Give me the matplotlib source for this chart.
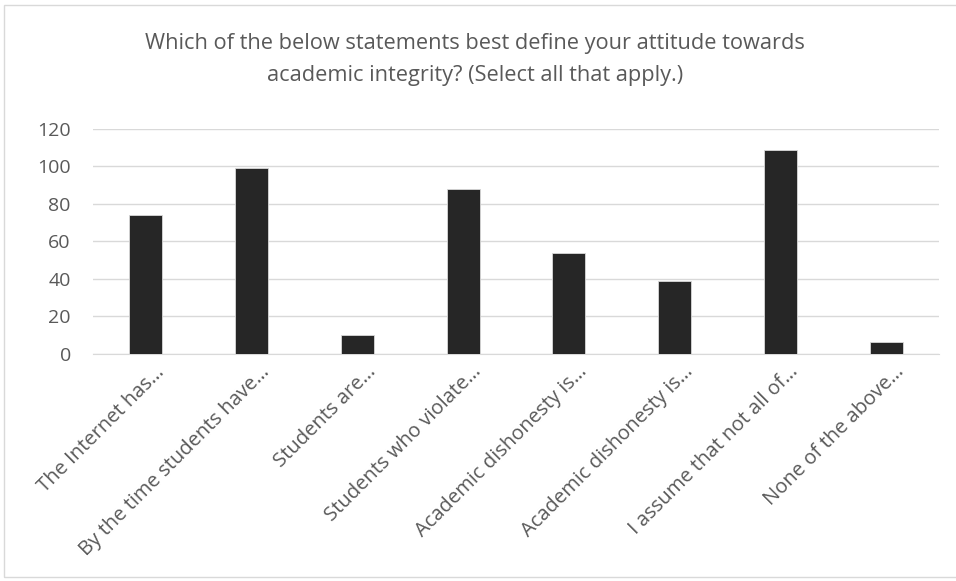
import matplotlib.pyplot as plt
from matplotlib.patches import Rectangle

labels = ["The Internet has…", "By the time students have…", "Students are…",
          "Students who violate…", "Academic dishonesty is…", "Academic dishonesty is…",
          "I assume that not all of…", "None of the above…"]
values = [74, 99, 10, 88, 54, 39, 109, 6]
yticks = [0, 20, 40, 60, 80, 100, 120]

plt.rcParams['font.family'] = ['Open Sans', 'DejaVu Sans']
txt = '#595959'

fig = plt.figure(figsize=(9.56, 5.81), dpi=100)
fig.patches.append(Rectangle((4 / 956, 4 / 581), 960 / 956, 572 / 581, transform=fig.transFigure,
                             fill=False, edgecolor='#d9d9d9', linewidth=1))
ax = fig.add_axes([93 / 956, 1 - 353.7 / 581, (939 - 93) / 956, (353.7 - 129) / 581])

x = list(range(len(values)))
ax.bar(x, values, width=0.31, color='#262626', edgecolor='#d9d9d9', linewidth=0.6, zorder=3)
ax.set_xlim(-0.5, len(values) - 0.5)
ax.set_ylim(0, 120)
ax.set_yticks(yticks)
ax.set_yticklabels([str(v) for v in yticks], fontsize=14, color=txt)
ax.set_xticks(x)
ax.set_xticklabels([])
# rotated category labels, ending just right of each tick like Excel does
for i, lab in zip(x, labels):
    ax.annotate(lab, xy=(i, 0), xycoords=('data', 'axes fraction'),
                xytext=(11, -11), textcoords='offset points',
                rotation=45, ha='right', va='center', rotation_mode='anchor',
                fontsize=14.5, color=txt, annotation_clip=False)
ax.grid(axis='y', color='#d9d9d9', linewidth=1, zorder=0)
ax.tick_params(axis='y', length=0, pad=16)
ax.tick_params(axis='x', length=0)
for s in ['top', 'right', 'left']:
    ax.spines[s].set_visible(False)
ax.spines['bottom'].set_color('#d9d9d9')

fig.text(0.497, 1 - 44 / 581, "Which of the below statements best define your attitude towards",
         ha='center', va='center', fontsize=15.7, color=txt)
fig.text(0.497, 1 - 76 / 581, "academic integrity? (Select all that apply.)",
         ha='center', va='center', fontsize=15.7, color=txt)

fig.savefig('out.png', dpi=100)
